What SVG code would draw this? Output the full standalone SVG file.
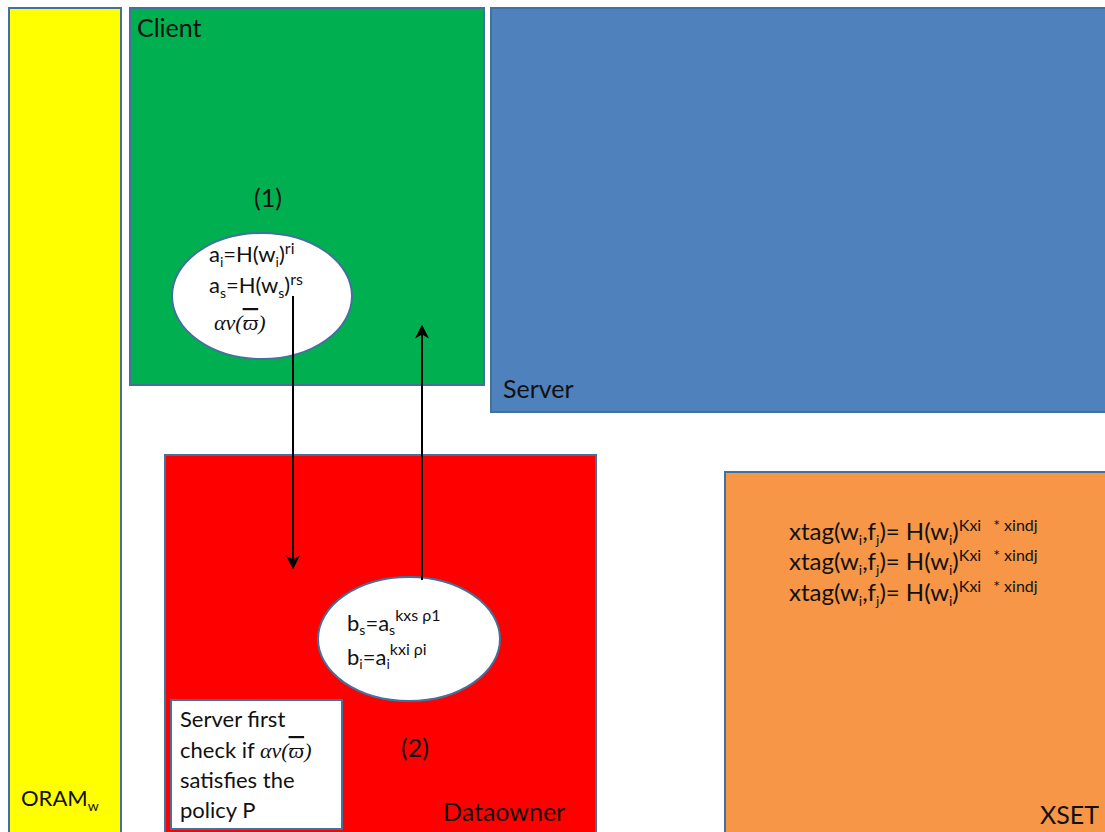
<svg xmlns="http://www.w3.org/2000/svg" width="1105" height="832" viewBox="0 0 1105 832">
  <style>
    .box { stroke: #41719C; stroke-width: 2; }
    .t { font-family: Lato, "Liberation Sans", sans-serif; font-size: 22px; fill: #111; }
    .lbl { font-family: Lato, "Liberation Sans", sans-serif; font-size: 25px; fill: #111; }
    .xt { font-family: Lato, "Liberation Sans", sans-serif; font-size: 24px; fill: #111; }
    .m { font-family: "Liberation Serif", serif; font-style: italic; font-size: 22px; fill: #111; }
    .bar { text-decoration: overline; }
    .sub { font-size: 14px; }
    .sup { font-size: 16px; }
    .wire { stroke: #000; stroke-width: 2; fill: none; marker-end: url(#arr); }
  </style>
  <defs>
    <marker id="arr" viewBox="0 0 10 10" refX="9" refY="5" markerWidth="7" markerHeight="7" markerUnits="strokeWidth" orient="auto">
      <path d="M0,0 L10,5 L0,10 L3,5 Z" fill="#000"/>
    </marker>
  </defs>
  <rect width="1105" height="832" fill="#fff"/>

  <g id="oram">
    <rect class="box" x="9" y="8" width="112" height="830" fill="#FFFF00"/>
    <text class="t" x="21" y="806" font-size="23">ORAM<tspan class="sub" dy="5">w</tspan></text>
  </g>

  <g id="client">
    <rect class="box" x="130" y="8" width="354" height="377" fill="#00B050"/>
    <text class="lbl" x="137" y="37">Client</text>
    <text class="lbl" x="268" y="207" text-anchor="middle">(1)</text>
  </g>

  <g id="server">
    <rect class="box" x="491" y="8" width="620" height="404" fill="#4F81BD"/>
    <text class="lbl" x="503" y="398">Server</text>
  </g>

  <g id="dataowner">
    <rect class="box" x="165" y="455" width="431" height="383" fill="#FF0000"/>
    <text class="lbl" x="443" y="821">Dataowner</text>
    <text class="lbl" x="415" y="757" text-anchor="middle">(2)</text>
  </g>

  <g id="xset">
    <rect class="box" x="725" y="472" width="386" height="366" fill="#F79646"/>
    <text class="lbl" x="1040" y="824">XSET</text>
    <text class="xt" x="789" y="540">xtag(w<tspan class="sub" dy="5">i</tspan><tspan dy="-5">,f</tspan><tspan class="sub" dy="5">j</tspan><tspan dy="-5">)= H(w</tspan><tspan class="sub" dy="5">i</tspan><tspan dy="-5">)</tspan><tspan class="sup" dy="-9">Kxi</tspan><tspan class="sup" dx="12">* xindj</tspan></text>
    <text class="xt" x="789" y="570">xtag(w<tspan class="sub" dy="5">i</tspan><tspan dy="-5">,f</tspan><tspan class="sub" dy="5">j</tspan><tspan dy="-5">)= H(w</tspan><tspan class="sub" dy="5">i</tspan><tspan dy="-5">)</tspan><tspan class="sup" dy="-9">Kxi</tspan><tspan class="sup" dx="12">* xindj</tspan></text>
    <text class="xt" x="789" y="601">xtag(w<tspan class="sub" dy="5">i</tspan><tspan dy="-5">,f</tspan><tspan class="sub" dy="5">j</tspan><tspan dy="-5">)= H(w</tspan><tspan class="sub" dy="5">i</tspan><tspan dy="-5">)</tspan><tspan class="sup" dy="-9">Kxi</tspan><tspan class="sup" dx="12">* xindj</tspan></text>
  </g>

  <g id="query">
    <ellipse class="box" cx="262" cy="296" rx="90" ry="63" fill="#fff"/>
    <text class="t" x="209" y="262">a<tspan class="sub" dy="5">i</tspan><tspan dy="-5">=H(w</tspan><tspan class="sub" dy="5">i</tspan><tspan dy="-5">)</tspan><tspan class="sup" dy="-8">ri</tspan></text>
    <text class="t" x="209" y="293">a<tspan class="sub" dy="5">s</tspan><tspan dy="-5">=H(w</tspan><tspan class="sub" dy="5">s</tspan><tspan dy="-5">)</tspan><tspan class="sup" dy="-8">rs</tspan></text>
    <text class="m" x="214" y="330">αv(<tspan class="bar">ϖ</tspan>)</text>
  </g>

  <g id="blind">
    <ellipse class="box" cx="409" cy="639" rx="91" ry="62" fill="#fff"/>
    <text class="t" x="347" y="631">b<tspan class="sub" dy="4">s</tspan><tspan dy="-4">=a</tspan><tspan class="sub" dy="4">s</tspan><tspan class="sup" dy="-14">kxs ρ1</tspan></text>
    <text class="t" x="347" y="665">b<tspan class="sub" dy="4">i</tspan><tspan dy="-4">=a</tspan><tspan class="sub" dy="4">i</tspan><tspan class="sup" dy="-14">kxi ρi</tspan></text>
  </g>

  <g id="note">
    <rect class="box" x="171" y="700" width="171" height="129" fill="#fff"/>
    <text class="t" x="180" y="727">Server first</text>
    <text class="t" x="180" y="758">check if <tspan class="m">αv(<tspan class="bar">ϖ</tspan>)</tspan></text>
    <text class="t" x="180" y="788">satisfies the</text>
    <text class="t" x="180" y="818">policy P</text>
  </g>

  <g id="connectors">
    <line class="wire" x1="293" y1="296" x2="293" y2="568"/>
    <line class="wire" x1="422" y1="580" x2="422" y2="326"/>
  </g>
</svg>
